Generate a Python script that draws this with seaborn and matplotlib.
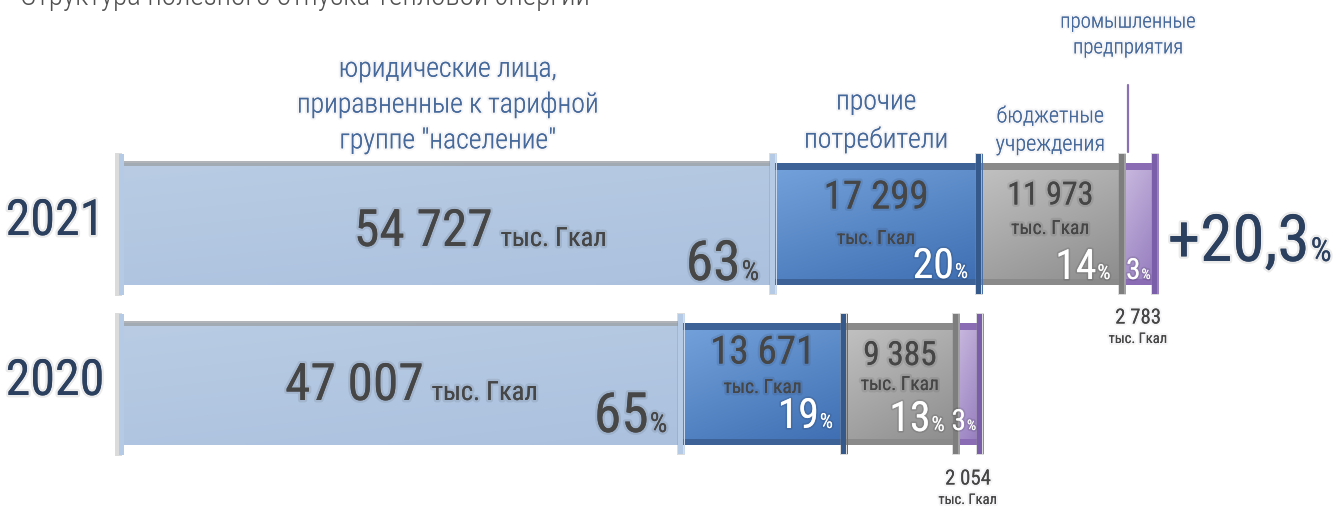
import numpy as np
import pandas as pd
import matplotlib
matplotlib.use("Agg")
import matplotlib.pyplot as plt
import seaborn as sns
from matplotlib import font_manager as fm
from matplotlib.patches import Rectangle
from matplotlib.colors import LinearSegmentedColormap
import matplotlib.patheffects as pe

# ---------------- data ----------------
years = ["2021", "2020"]
categories = ['юридические лица,\nприравненные к тарифной\nгруппе "население"',
              "прочие\nпотребители", "бюджетные\nучреждения", "промышленные\nпредприятия"]
values_2021 = [54727, 17299, 11973, 2783]
values_2020 = [47007, 13671, 9385, 2054]
shares_2021 = [63, 20, 14, 3]
shares_2020 = [65, 19, 13, 3]
growth_label = "+20,3"
unit_label = "тыс. Гкал"
title = "Структура полезного отпуска тепловой энергии"

# ---------------- fonts ----------------
sns.set_style("white")
names = {f.name for f in fm.fontManager.ttflist}
FONT = "DejaVu Sans"
for c in ["Roboto Condensed", "PT Sans Narrow", "Liberation Sans Narrow"]:
    if c in names:
        FONT = c
        break
plt.rcParams["font.family"] = [FONT, "DejaVu Sans"]

# ---------------- layout (pixels) ----------------
W, H = 1342, 510
K = 0.0119          # px per unit
X0 = 122            # px of zero
Y0, S = 225, 160    # px of first bar centre, px between bars
BAR_W = 122 / S

def X(px): return (px - X0) / K
def dX(px): return px / K
def Y(py): return (py - Y0) / S
def dY(py): return py / S

fig = plt.figure(figsize=(W / 100, H / 100), dpi=100)
ax = fig.add_axes([0, 0, 1, 1])

def set_limits():
    ax.set_xlim(X(0), X(W))
    ax.set_ylim(Y(H), Y(0))

vals = {"2021": values_2021, "2020": values_2020}
cums = {y: np.cumsum(vals[y]) for y in years}

fills = ["#b3c7e1", "#5686c6", "#a6a6a6", "#b09bcf"]
grads = [("#b9cce4", "#abc1de"), ("#74a2db", "#3e6eb2"), ("#c2c2c2", "#8c8c8c"), ("#cbbbe0", "#937abd")]
strips = [None, "#3d6297", "#8a8a8a", "#8a6cb4"]
caps = ["#b5cae4", "#36598b", "#7e7e7e", "#7b5ea9"]
caps2 = ["#c9d8ec", "#4a72a8", "#a0a0a0", "#9a82c2"]

# stacked bars: cumulative layers, longest first
for j in range(len(categories) - 1, -1, -1):
    df = pd.DataFrame({"year": years, "value": [cums[y][j] for y in years]})
    sns.barplot(data=df, x="value", y="year", order=years, orient="h", color=fills[j],
                saturation=1, width=BAR_W, linewidth=0, errorbar=None, ax=ax, zorder=1)

# decorations per segment
for i, y in enumerate(years):
    top, bot = i - BAR_W / 2, i + BAR_W / 2
    ax.add_patch(Rectangle((X(115), top - dY(10)), dX(7), BAR_W + dY(21), color="#9a9a9a", alpha=0.35, lw=0, zorder=5))
    ax.add_patch(Rectangle((X(119), top - dY(9)), dX(5), BAR_W + dY(19), color=caps[0], lw=0, zorder=6))
    for j in range(len(categories)):
        l = 0 if j == 0 else cums[y][j - 1]
        r = cums[y][j]
        cmap = LinearSegmentedColormap.from_list("g", list(grads[j]))
        yy, xx = np.mgrid[0:1:40j, 0:1:80j]
        g = 0.65 * yy + 0.35 * xx
        ax.imshow(g, extent=(l, r, bot, top), origin="upper", aspect="auto", cmap=cmap,
                  vmin=0, vmax=1, zorder=2, interpolation="bilinear")
        if strips[j] is None:
            ax.add_patch(Rectangle((l, top - dY(2)), r - l, dY(5), color="#9da2a8", alpha=0.8, lw=0, zorder=3))
        else:
            ax.add_patch(Rectangle((l, top), r - l, dY(7), color=strips[j], lw=0, zorder=3))
            ax.add_patch(Rectangle((l, bot - dY(6)), r - l, dY(6), color=strips[j], lw=0, zorder=3))
        ax.add_patch(Rectangle((r - dX(4), top - dY(10)), dX(8), BAR_W + dY(20), color="#8c8c8c", alpha=0.3, lw=0, zorder=5))
        ax.add_patch(Rectangle((r - dX(3), top - dY(9)), dX(5), BAR_W + dY(18), color=caps[j], lw=0, zorder=6))
        ax.add_patch(Rectangle((r + dX(2.5), top - dY(9)), dX(1.5), BAR_W + dY(18), color=caps2[j], lw=0, zorder=6))

set_limits()
ax.axis("off")

# ---------------- texts ----------------
NAVY = "#2b3f5f"
DARK = "#464646"
CAT = "#46699b"
glow = [pe.withStroke(linewidth=3.5, foreground=(0, 0, 0, 0.08))]
glow_w = [pe.withStroke(linewidth=2.5, foreground=(0, 0, 0, 0.10))]
soft = [pe.withStroke(linewidth=3, foreground=(0.3, 0.3, 0.4, 0.05))]

fig.canvas.draw()
renderer = fig.canvas.get_renderer()
inv = ax.transData.inverted()

def after(t, txt, size, color, effects, gap=1):
    """place a text immediately right of text artist t, on the same baseline"""
    bb = t.get_window_extent(renderer)
    x_data = inv.transform((bb.x1 + gap, 0))[0]
    return ax.text(x_data, t.get_position()[1], txt, fontsize=size, color=color, ha="left",
                   va="baseline", path_effects=effects, zorder=10, fontweight=t.get_fontweight())

ax.text(X(20), Y(5), title, fontsize=21, color="#505050", ha="left", va="baseline", zorder=10, fontweight=300)

for i, y in enumerate(years):
    ax.text(X(55), i - dY(3), y, fontsize=36, color=NAVY, ha="center", va="center",
            path_effects=glow, zorder=10)

def pct(x_right, yb, n, size, color):
    eff = glow if color != "white" else glow_w
    tp = ax.text(0, yb, "%", fontsize=size * 0.5, color=color, ha="left", va="baseline")
    wp = tp.get_window_extent(renderer).width
    tp.remove()
    x_num = x_right - dX(wp + 1)
    t = ax.text(x_num, yb, str(n), fontsize=size, color=color, ha="right", va="baseline",
                path_effects=eff, zorder=10)
    after(t, "%", size * 0.5, color, eff)

c21, v21 = cums["2021"], values_2021
seg21 = [((0 if j == 0 else c21[j - 1]), c21[j]) for j in range(4)]
c20, v20 = cums["2020"], values_2020
seg20 = [((0 if j == 0 else c20[j - 1]), c20[j]) for j in range(4)]

def fmt(v): return f"{v:,}".replace(",", " ")

# category labels above 2021 bars
cat_pos = [(106, 20, 1.42), (122, 20, 1.5), (132, 16, 1.45), (36, 15, 1.45)]
for j, (cy, fs, ls) in enumerate(cat_pos):
    cx = (seg21[j][0] + seg21[j][1]) / 2
    if j == 3:
        cx -= dX(10)
    ax.text(cx, Y(cy), categories[j], fontsize=fs, color=CAT, ha="center", va="center",
            linespacing=ls, path_effects=soft, zorder=10, fontweight=300)
px = (seg21[3][0] + seg21[3][1]) / 2 - dX(10)
ax.plot([px, px], [Y(86), Y(153)], color="#8a70b4", lw=1.6, zorder=10)

def big_block(seg, dx_off, yb, yb_pct, n, sh):
    cx = (seg[0] + seg[1]) / 2 + dX(dx_off)
    t = ax.text(cx, Y(yb), fmt(n), fontsize=37, color=DARK, ha="right", va="baseline",
                path_effects=glow, zorder=10)
    after(t, " " + unit_label, 19, DARK, glow, gap=2)
    pct(seg[1] - dX(14), Y(yb_pct), sh, 40, "#474747")

big_block(seg21[0], 45, 247, 281, v21[0], shares_2021[0])
big_block(seg20[0], 22, 401, 433, v20[0], shares_2020[0])

def mid_block(seg, yv, yu, yp, n, sh, fs):
    cx = (seg[0] + seg[1]) / 2
    ax.text(cx, Y(yv), fmt(n), fontsize=fs, color=DARK, ha="center", va="center", path_effects=glow, zorder=10)
    ax.text(cx, Y(yu), unit_label, fontsize=14, color=DARK, ha="center", va="center", path_effects=glow, zorder=10)
    pct(seg[1] - dX(11), Y(yp), sh, 30, "white")

mid_block(seg21[1], 199, 240, 279, v21[1], shares_2021[1], 28)
mid_block(seg21[2], 197, 230, 280, v21[2], shares_2021[2], 23)
mid_block(seg20[1], 354, 389, 429, v20[1], shares_2020[1], 28)
mid_block(seg20[2], 357, 386, 432, v20[2], shares_2020[2], 24)

pct(seg21[3][1] - dX(4), Y(280), shares_2021[3], 21, "white")
pct(seg20[3][1] - dX(4), Y(431), shares_2020[3], 21, "white")

for seg, n, yv, yu in [(seg21[3], v21[3], 319, 340), (seg20[3], v20[3], 480, 501)]:
    cx = (seg[0] + seg[1]) / 2
    ax.text(cx, Y(yv), fmt(n), fontsize=15, color=DARK, ha="center", va="center", path_effects=soft, zorder=10)
    ax.text(cx, Y(yu), unit_label, fontsize=10.5, color=DARK, ha="center", va="center", path_effects=soft, zorder=10)

gx = c21[-1] + dX(13)
tg = ax.text(gx, Y(262), growth_label, fontsize=47, color=NAVY, ha="left", va="baseline",
             path_effects=glow, zorder=10)
after(tg, "%", 24, NAVY, glow, gap=1)

set_limits()
fig.savefig("out.png", dpi=100)
